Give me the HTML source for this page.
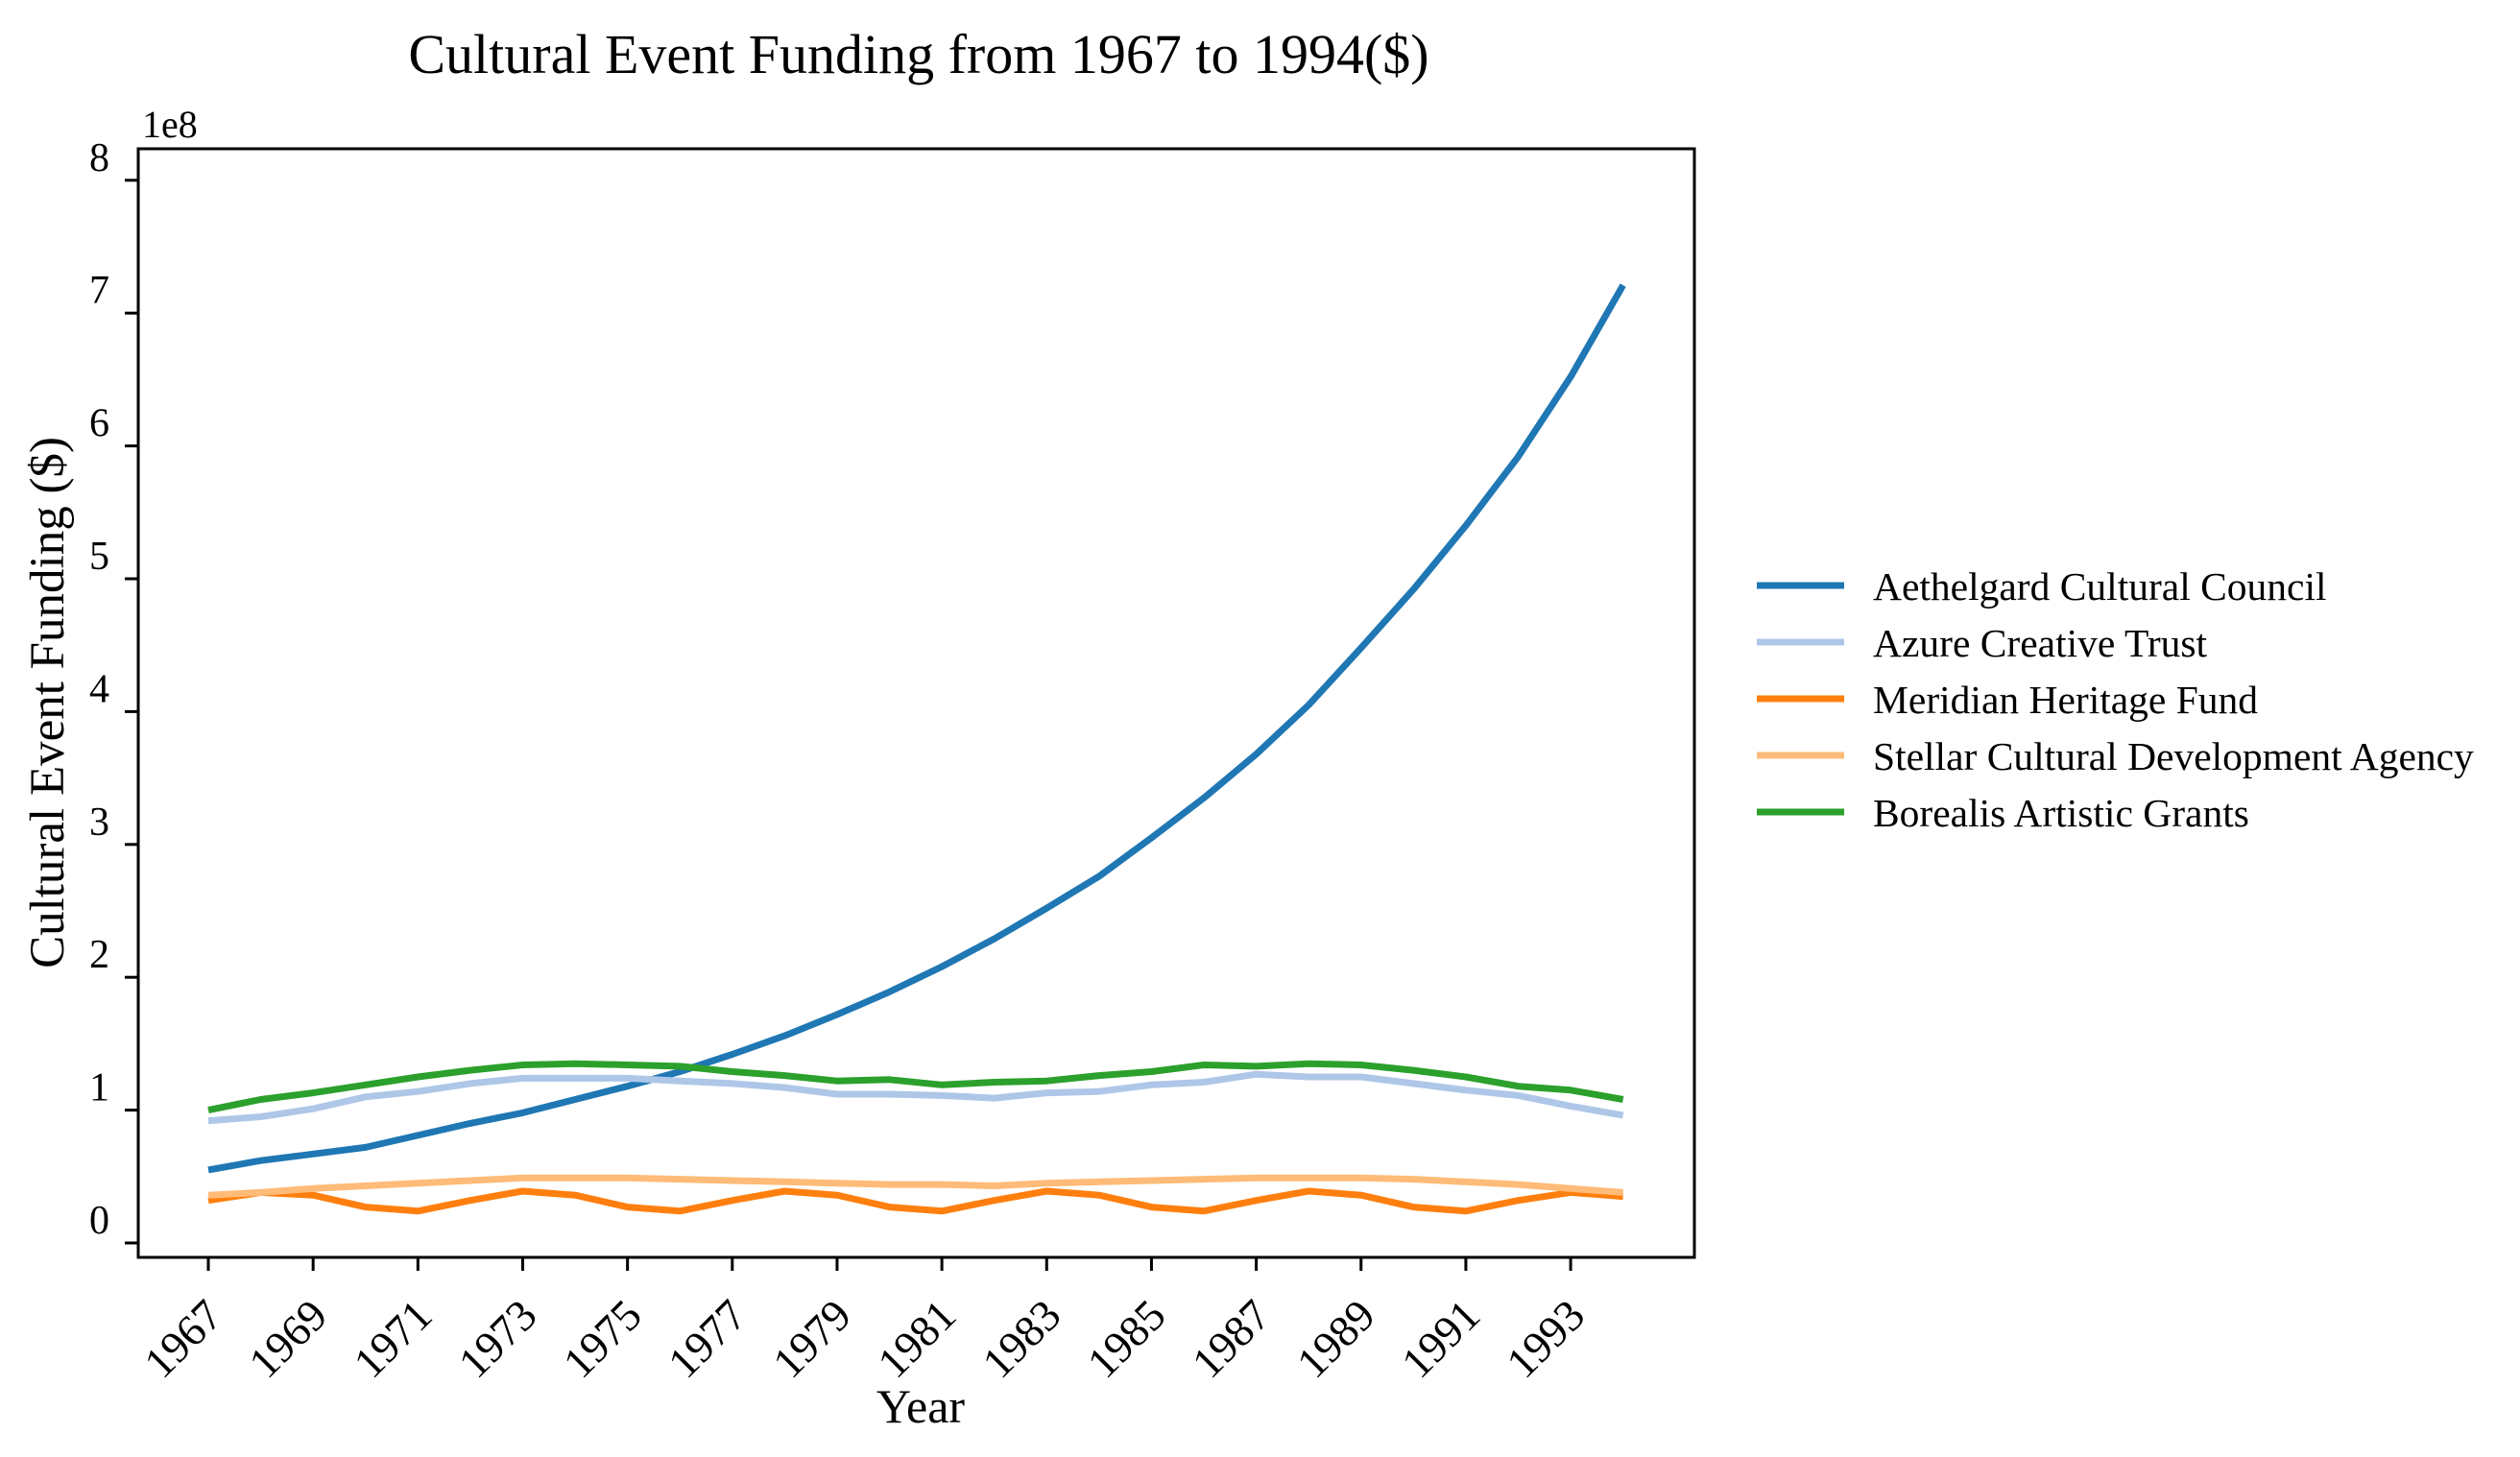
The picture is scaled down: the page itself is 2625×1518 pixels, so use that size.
<!DOCTYPE html>
<html><head><meta charset="utf-8"><style>
html,body{margin:0;padding:0;background:#fff;}
svg{display:block;font-family:"Liberation Serif","Times New Roman",serif;}
</style></head><body>
<svg id="chart" width="2625" height="1518" viewBox="0 0 2625 1518" xmlns="http://www.w3.org/2000/svg">
<text x="957" y="76" font-size="58" text-anchor="middle">Cultural Event Funding from 1967 to 1994($)</text>
<g id="plot"></g>
<g id="axes"></g>
<g id="legend"></g>
</svg>
<script>
const years = [1967,1968,1969,1970,1971,1972,1973,1974,1975,1976,1977,1978,1979,1980,1981,1982,1983,1984,1985,1986,1987,1988,1989,1990,1991,1992,1993,1994];
const aethelgard = [0.55,0.62,0.67,0.72,0.81,0.90,0.98,1.08,1.18,1.29,1.42,1.56,1.72,1.89,2.08,2.29,2.52,2.76,3.05,3.35,3.68,4.05,4.48,4.92,5.40,5.92,6.52,7.21];
const azure = [0.92,0.95,1.01,1.10,1.14,1.20,1.24,1.24,1.24,1.22,1.20,1.17,1.12,1.12,1.11,1.09,1.13,1.14,1.19,1.21,1.27,1.25,1.25,1.20,1.15,1.11,1.03,0.96];
const meridian = [0.32,0.38,0.36,0.27,0.24,0.32,0.39,0.36,0.27,0.24,0.32,0.39,0.36,0.27,0.24,0.32,0.39,0.36,0.27,0.24,0.32,0.39,0.36,0.27,0.24,0.32,0.38,0.35];
const stellar = [0.36,0.38,0.41,0.43,0.45,0.47,0.49,0.49,0.49,0.48,0.47,0.46,0.45,0.44,0.44,0.43,0.45,0.46,0.47,0.48,0.49,0.49,0.49,0.48,0.46,0.44,0.41,0.38];
const borealis = [1.00,1.08,1.13,1.19,1.25,1.30,1.34,1.35,1.34,1.33,1.29,1.26,1.22,1.23,1.19,1.21,1.22,1.26,1.29,1.34,1.33,1.35,1.34,1.30,1.25,1.18,1.15,1.08];
const seriesNames = ["Aethelgard Cultural Council","Azure Creative Trust","Meridian Heritage Fund","Stellar Cultural Development Agency","Borealis Artistic Grants"];
const yTicks = [0,1,2,3,4,5,6,7,8];
const xTicks = [1967,1969,1971,1973,1975,1977,1979,1981,1983,1985,1987,1989,1991,1993];

const NS="http://www.w3.org/2000/svg";
const L=144,R=1765,T=155,B=1310;
function xs(y){return 217+(y-1967)*54.58;}
function ys(v){return 1295-v*138.4;}
function mk(tag,attrs,parent){const e=document.createElementNS(NS,tag);for(const k in attrs)e.setAttribute(k,attrs[k]);parent.appendChild(e);return e;}
const plot=document.getElementById('plot'),axes=document.getElementById('axes'),legend=document.getElementById('legend');
const all=[aethelgard,azure,meridian,stellar,borealis];
const colors=["#1f77b4","#aec7e8","#ff7f0e","#ffbb78","#2ca02c"];
const keys=["aethelgard","azure","meridian","stellar","borealis"];
all.forEach((s,i)=>{
  const p=mk('polyline',{points:s.map((v,j)=>xs(years[j]).toFixed(1)+','+ys(v).toFixed(1)).join(' '),fill:'none',stroke:colors[i],'stroke-width':7,'stroke-linejoin':'round'},plot);
  
  
});
const frame=mk('rect',{x:L,y:T,width:R-L,height:B-T,fill:'none',stroke:'#000','stroke-width':3},axes);


yTicks.forEach(t=>{
  const y=ys(t);
  const tk=mk('line',{x1:L-14,x2:L,y1:y,y2:y,stroke:'#000','stroke-width':3},axes);
  
  
  const tx=mk('text',{x:114,y:y-10,'font-size':42,'text-anchor':'end'},axes);
  tx.textContent=t;
  
  
});
xTicks.forEach(t=>{
  const x=xs(t);
  const tk=mk('line',{x1:x,x2:x,y1:B,y2:B+14,stroke:'#000','stroke-width':3},axes);
  
  
  const tx=mk('text',{transform:'translate('+(x-6)+','+(B+40)+') rotate(-45)','font-size':46,'text-anchor':'end','dominant-baseline':'hanging'},axes);
  tx.textContent=t;
  
  
});
const off=mk('text',{x:148,y:143,'font-size':40},axes);off.textContent='1e8';


const xl=mk('text',{x:959,y:1482,'font-size':50,'text-anchor':'middle'},axes);xl.textContent='Year';


const yl=mk('text',{transform:'translate(66,732) rotate(-90)','font-size':51,'text-anchor':'middle'},axes);yl.textContent='Cultural Event Funding ($)';


seriesNames.forEach((n,i)=>{
  const y=610+i*59;
  const g=mk('g',{},legend);
  
  
  mk('line',{x1:1830,x2:1921,y1:y,y2:y,stroke:colors[i],'stroke-width':7},g);
  const t=mk('text',{x:1951,y:y+15,'font-size':41.5},g);t.textContent=n;
});
</script>
</body></html>
